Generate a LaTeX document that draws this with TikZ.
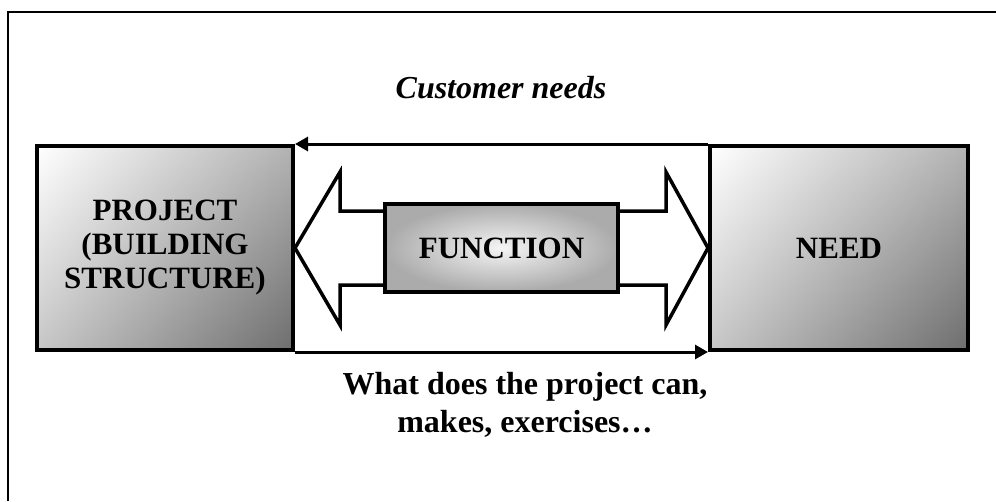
\documentclass[tikz,border=0pt]{standalone}
\usepackage{fontspec}
\setmainfont{Liberation Serif}
\usetikzlibrary{arrows.meta,shadings}
\begin{document}
\begin{tikzpicture}[x=1pt,y=-1pt,
  box/.style={draw=black, line width=4pt, inner sep=0pt, align=center,
    font=\fontsize{31}{34}\selectfont\bfseries},
  cornerbox/.style={box, upper left=white, upper right=black!30,
    lower left=black!22, lower right=black!57},
  fatarrow/.style={draw=black, fill=white, line width=3.5pt, line join=miter},
  conn/.style={draw=black, line width=3pt,
    -{Triangle[length=13pt,width=14pt]}},
  caption/.style={align=center, inner sep=0pt,
    font=\fontsize{32}{38}\selectfont\bfseries}]
\useasboundingbox (0,0) rectangle (996,501);

% outer frame
\draw[line width=2.5pt] (8,501) -- (8,12) -- (996,12);

% end boxes
\node[cornerbox, minimum width=256pt, minimum height=204pt] (project)
  at (165,248) {PROJECT\\(BUILDING\\STRUCTURE)};
\node[cornerbox, minimum width=258pt, minimum height=204pt] (need)
  at (839,248) {NEED};

% block arrows out of the function box
\draw[fatarrow] (386,211) -- (340,211) -- (340,172) -- (project.east)
  -- (340,325) -- (340,285) -- (386,285);
\draw[fatarrow] (617,211) -- (666,211) -- (666,172) -- (need.west)
  -- (666,325) -- (666,285) -- (617,285);

% central function box
\node[box, minimum width=233pt, minimum height=88pt,
  inner color=black!4, outer color=black!33] (function)
  at (501.5,248) {FUNCTION};

% connectors along the top and bottom edges
\draw[conn] (need.north west) -- (project.north east);
\draw[conn] (project.south east) -- (need.south west);

% captions
\node[caption, font=\fontsize{32}{38}\selectfont\bfseries\itshape] (customer)
  at (501,88) {Customer needs};
\node[caption] (what) at (525,405) {What does the project can,\\makes, exercises…};
\end{tikzpicture}
\end{document}
